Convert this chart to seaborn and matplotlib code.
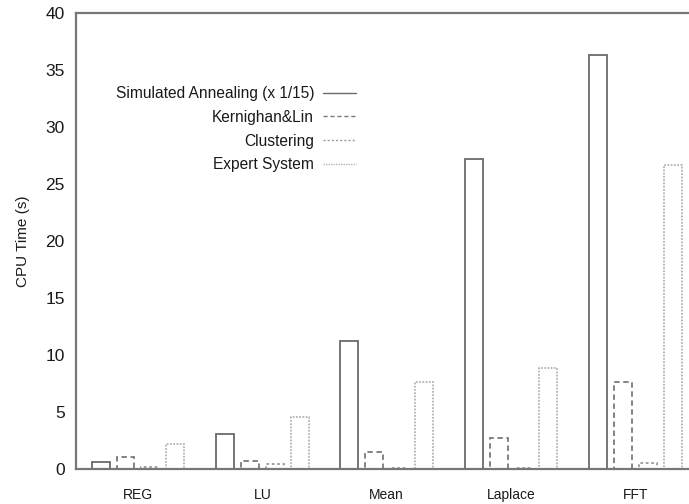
import pandas as pd
import seaborn as sns
import matplotlib.pyplot as plt
from matplotlib.lines import Line2D

benchmarks = ["REG", "LU", "Mean", "Laplace", "FFT"]
methods = ["Simulated Annealing (x 1/15)", "Kernighan&Lin", "Clustering", "Expert System"]
sim_annealing = [0.65, 3.1, 11.2, 27.2, 36.3]
kernighan_lin = [1.05, 0.7, 1.5, 2.7, 7.6]
clustering = [0.15, 0.4, 0.1, 0.1, 0.55]
expert_system = [2.2, 4.6, 7.6, 8.9, 26.7]

rows = []
for m, vals in zip(methods, [sim_annealing, kernighan_lin, clustering, expert_system]):
    for b, v in zip(benchmarks, vals):
        rows.append({"bench": b, "method": m, "time": v})
df = pd.DataFrame(rows)

sns.set_style("white")
plt.rcParams["font.family"] = ["Liberation Sans", "DejaVu Sans"]
plt.rcParams["text.color"] = "#1a1a1a"

edge_colors = ["#6a6a6a", "#7a7a7a", "#9a9a9a", "#b4b4b4"]
line_styles = ["-", (0, (3, 2)), (0, (1.5, 1.5)), (0, (1, 0.8))]

fig = plt.figure(figsize=(6.89, 5.04), dpi=100)
ax = fig.add_axes([0.110, 0.0694, 0.89, 0.905])

sns.barplot(data=df, x="bench", y="time", hue="method", hue_order=methods,
            order=benchmarks, palette=edge_colors, fill=False, gap=0.28,
            linewidth=1.3, errorbar=None, ax=ax, legend=False)

for cont, ls, col in zip(ax.containers, line_styles, edge_colors):
    for p in cont:
        p.set_linestyle(ls)
        p.set_edgecolor(col)

ax.set_ylim(0, 40)
ax.set_xlim(-0.5, 4.43)
ax.set_yticks(range(0, 41, 5))
ax.set_xlabel("")
ax.set_ylabel("CPU Time (s)", fontsize=11, labelpad=11, color="#1a1a1a")
ax.tick_params(axis="y", direction="in", length=5, width=1, color="#666666",
               labelsize=12.5, pad=8, labelcolor="#1a1a1a")
ax.tick_params(axis="x", length=0, labelsize=10, pad=14, labelcolor="#1a1a1a")
for s in ["left", "bottom", "top"]:
    ax.spines[s].set_color("#777777")
    ax.spines[s].set_linewidth(1.6)
ax.spines["right"].set_visible(False)

handles = [Line2D([0], [0], color=c, linestyle=ls, linewidth=1.0)
           for c, ls in zip(edge_colors, line_styles)]
ax.legend(handles, methods, loc="upper left", bbox_to_anchor=(0.042, 0.870),
          frameon=False, markerfirst=False, fontsize=11.2, handlelength=2.1,
          labelspacing=0.56, handletextpad=0.6)

fig.savefig("out.png", dpi=100)
